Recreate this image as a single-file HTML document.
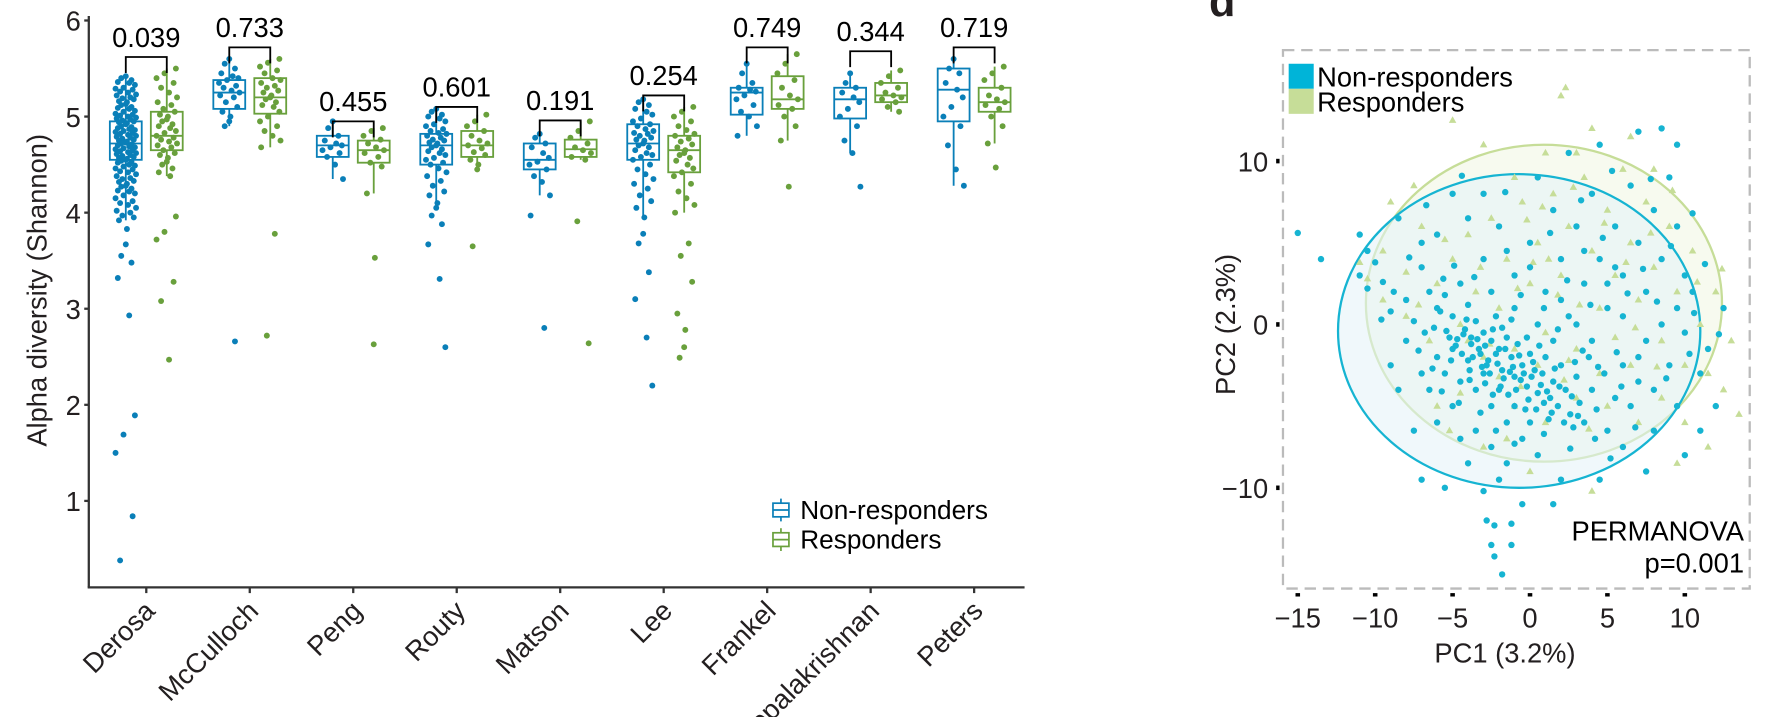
<!DOCTYPE html>
<html><head><meta charset="utf-8">
<style>
body{margin:0;background:#fff;}
svg{display:block;font-family:"Liberation Sans",Arial,sans-serif;}
</style></head>
<body>
<svg id="fig" width="1785" height="717" viewBox="0 0 1785 717">
<g transform="scale(1.1384)">
<g id="left"></g>
<g id="right"></g>
</g>
</svg>
<script>
// ---------- Left chart data ----------
const studies=["Derosa","McCulloch","Peng","Routy","Matson","Lee","Frankel","Gopalakrishnan","Peters"];
const pvalues=["0.039","0.733","0.455","0.601","0.191","0.254","0.749","0.344","0.719"];
const bracketY=[5.62,5.72,4.95,5.1,4.96,5.22,5.72,5.68,5.72];
// box stats: [lowWhisker,q1,median,q3,highWhisker]
const nrBox=[[3.92,4.55,4.72,4.95,5.42],[4.9,5.08,5.25,5.38,5.6],[4.35,4.58,4.7,4.8,4.95],[4.05,4.5,4.7,4.82,5.08],[4.18,4.45,4.55,4.72,4.82],[3.95,4.55,4.72,4.92,5.18],[4.8,5.02,5.25,5.3,5.55],[4.62,4.98,5.18,5.3,5.45],[4.28,4.95,5.28,5.5,5.6]];
const rBox=[[4.38,4.65,4.8,5.05,5.5],[4.68,5.03,5.2,5.4,5.6],[4.2,4.52,4.65,4.75,4.88],[4.45,4.58,4.7,4.85,5.02],[4.55,4.58,4.66,4.76,4.95],[4.0,4.42,4.65,4.8,5.1],[4.75,5.08,5.18,5.42,5.65],[5.05,5.15,5.22,5.35,5.48],[4.72,5.05,5.15,5.3,5.52]];
const nrPts=[
[5.42,5.4,5.38,5.36,5.35,5.33,5.3,5.29,5.28,5.26,5.25,5.23,5.22,5.2,5.19,5.18,5.16,5.15,5.13,5.12,5.1,5.09,5.08,5.06,5.05,5.03,5.02,5.01,5.0,4.99,4.98,4.97,4.96,4.95,4.94,4.93,4.92,4.9,4.89,4.88,4.87,4.86,4.85,4.84,4.83,4.82,4.81,4.8,4.79,4.78,4.77,4.76,4.75,4.74,4.73,4.72,4.71,4.7,4.69,4.68,4.67,4.66,4.65,4.64,4.63,4.62,4.61,4.6,4.59,4.58,4.57,4.56,4.55,4.54,4.53,4.52,4.5,4.49,4.48,4.46,4.45,4.43,4.42,4.4,4.38,4.36,4.35,4.33,4.32,4.3,4.28,4.27,4.25,4.23,4.22,4.2,4.18,4.15,4.12,4.1,4.08,4.05,4.02,4.0,3.97,3.95,3.92,3.83,3.67,3.55,3.48,3.32,2.93,1.89,1.69,1.5,0.84,0.38],
[5.6,5.55,5.5,5.45,5.42,5.4,5.38,5.35,5.32,5.3,5.27,5.25,5.22,5.2,5.15,5.1,5.05,5.0,4.95,4.9,2.66],
[4.95,4.88,4.8,4.75,4.72,4.7,4.68,4.65,4.62,4.58,4.5,4.35],
[5.08,5.05,5.02,5.0,4.98,4.95,4.92,4.9,4.87,4.85,4.83,4.82,4.8,4.78,4.76,4.75,4.73,4.72,4.7,4.68,4.66,4.64,4.62,4.6,4.57,4.55,4.52,4.5,4.46,4.42,4.38,4.33,4.28,4.22,4.18,4.1,4.05,3.97,3.88,3.67,3.31,2.6],
[4.82,4.78,4.72,4.68,4.62,4.57,4.53,4.5,4.45,4.38,4.32,4.18,3.97,2.8],
[5.18,5.15,5.12,5.08,5.05,5.02,4.98,4.95,4.92,4.9,4.87,4.85,4.83,4.82,4.8,4.78,4.76,4.75,4.72,4.7,4.68,4.65,4.62,4.6,4.58,4.55,4.5,4.45,4.4,4.35,4.3,4.25,4.18,4.12,4.05,3.95,3.78,3.68,3.38,3.1,2.7,2.2],
[5.55,5.45,5.35,5.3,5.28,5.26,5.22,5.18,5.12,5.05,5.0,4.9,4.8],
[5.45,5.35,5.3,5.25,5.2,5.15,5.08,5.0,4.9,4.75,4.62,4.27],
[5.6,5.5,5.45,5.35,5.28,5.2,5.1,5.0,4.9,4.7,4.45,4.28]];
const rPts=[
[5.5,5.45,5.4,5.35,5.3,5.25,5.2,5.15,5.12,5.08,5.05,5.02,5.0,4.97,4.95,4.92,4.9,4.88,4.85,4.83,4.8,4.78,4.76,4.74,4.72,4.7,4.68,4.65,4.62,4.6,4.57,4.53,4.5,4.46,4.42,4.38,3.96,3.8,3.72,3.28,3.08,2.47],
[5.6,5.56,5.52,5.48,5.45,5.4,5.38,5.35,5.32,5.3,5.27,5.25,5.22,5.2,5.18,5.15,5.12,5.1,5.05,5.0,4.95,4.9,4.85,4.8,4.75,4.68,3.78,2.72],
[4.88,4.85,4.8,4.76,4.72,4.68,4.65,4.62,4.58,4.52,4.48,4.2,3.53,2.63],
[5.02,4.95,4.9,4.85,4.8,4.75,4.72,4.7,4.67,4.63,4.6,4.55,4.5,4.45,3.65],
[4.95,4.85,4.78,4.72,4.68,4.65,4.62,4.58,4.55,3.91,2.64],
[5.1,5.05,5.0,4.95,4.9,4.86,4.82,4.8,4.77,4.74,4.71,4.68,4.65,4.62,4.6,4.57,4.54,4.5,4.46,4.42,4.38,4.3,4.22,4.15,4.08,4.0,3.68,3.55,3.28,2.95,2.78,2.6,2.49],
[5.65,5.55,5.45,5.38,5.3,5.22,5.18,5.12,5.08,5.0,4.9,4.75,4.27],
[5.48,5.42,5.35,5.3,5.25,5.22,5.2,5.18,5.15,5.1,5.05],
[5.52,5.45,5.38,5.3,5.22,5.18,5.15,5.12,5.08,5.0,4.9,4.72,4.47]];
const yTicks=[1,2,3,4,5,6];

// ---------- Right chart data ----------
const pcXTicks=[-15,-10,-5,0,5,10];
const pcYTicks=[-10,0,10];
// ellipse: [cx, cy, rx, ry] in PC units
const nrEllipse=[-0.7,-0.4,11.7,9.6];
const rEllipse=[0.9,1.3,11.5,9.7];
const nrScatter=[[-15,5.6],[-11,5.5],[-13.5,4],[-10.5,4.5],[-10,3.8],[-11,3],[-10.5,2.2],[-9.5,2.6],[-8.5,6.5],[-8,1.5],[-9,0.8],[-7,5],[-7,3.5],[-6.5,2],[-6,1],[-7.5,0.2],[-6.8,-0.5],[-5.5,1.8],[-5,0.5],[-5.2,-0.8],[-4.5,2.5],[-4,1.2],[-4.2,-0.3],[-3.8,-1.2],[-3.5,0.2],[-3,-0.5],[-3.2,-1.8],[-2.8,-2.5],[-2.5,-1],[-2.2,0.5],[-2,-1.5],[-1.8,-2.8],[-1.5,-0.8],[-1.2,-2],[-1,-3.2],[-0.8,-1.2],[-0.5,-2.5],[-0.2,-3.8],[0,-1.8],[0.3,-2.8],[0.5,-4.2],[0.8,-3],[1,-2],[1.3,-4.5],[1.5,-3.5],[1.8,-5],[2,-2.5],[2.3,-4],[2.6,-5.5],[3,-3.2],[3.2,-4.8],[3.5,-6],[3.8,-2],[4,-4],[4.3,-5.2],[4.8,-3],[5,-6.5],[5.5,-4.5],[6,-2.5],[6.5,-5],[7,-3.5],[7.5,-1],[8,-4],[8.5,0],[9,-2.5],[9.5,1],[10,-0.5],[10.5,2],[11,-3],[11.5,-1.5],[12,-5],[12.5,1],[-6,-2],[-5.5,-3],[-5,-1.5],[-4.5,-3.5],[-4,-2.2],[-3.5,-4],[-3,-3],[-2.5,-5],[-2,-4],[-1.5,-6],[-1,-5],[-0.5,-7],[0,-6],[0.5,-8],[-1.5,-8.5],[-2.5,-7.5],[-3.5,-6.5],[-5,-5],[-6.5,-4],[-2,-9.5],[-3,-10.2],[-0.5,-11],[-7,-9.5],[-5.5,-10],[-2.8,-12],[-2.3,-12.3],[-1.2,-12.2],[-2.5,-13.5],[-1.2,-13.5],[-2.3,-14.2],[-1.8,-15.3],[1.5,-11],[-4,-8.5],[-3,4],[-2,6],[-1,3],[0,5],[1,2],[1.5,7],[2,4],[2.5,0.5],[3,6],[3.5,2.5],[4,8],[4.5,4],[5,1],[5.5,6],[6,3],[6.5,8.5],[7,5],[7.5,2],[8,7],[8.5,4],[9,9],[9.5,6],[10,3],[-4,6.5],[-5,8],[-6,5.5],[-3,8],[0.5,9],[2.5,10.5],[4.5,11],[8.5,12],[9.5,11],[7,11.8],[-1,1],[0.5,0],[1.5,-1],[3,0],[4,-1],[5,2.5],[6,0.5],[7,-2],[-2.5,2],[-1.5,4.5],[0,3.5],[2,1.5],[3.5,4.5],[5.5,3.5],[-8,-1],[-9,-2.5],[-7,-3],[-8.5,-4],[-6,-6],[-4.5,-7],[-7.5,-6.5],[-3.8,-0.8],[-3.3,-1.5],[-2.7,-2.2],[-2.2,-1.8],[-1.7,-3.3],[-1.1,-2.6],[-0.6,-3.4],[0.2,-2.3],[0.9,-4.8],[1.6,-2.7],[-4.8,-1.3],[-4.3,-0.6],[-3.9,-2.8],[-2.9,-3.6],[-0.3,-5.2],[1.2,-5.8],[2.8,-6.3],[4.2,-7],[6,-7.5],[8,-6.5],[9.5,-5],[11,-6.5],[10,-8],[7.5,-9],[4.5,-9.5],[2,-9.5],
[-6.2,-0.2],[-5.8,0.8],[-5.4,-0.4],[-5.1,-2.2],[-4.7,-0.9],[-4.4,-1.8],[-4.1,0.3],[-3.7,-2.0],[-3.4,-0.9],[-3.1,-2.6],[-2.9,-1.3],[-2.6,-3.0],[-2.4,-0.3],[-2.1,-2.4],[-1.9,-3.8],[-1.6,-1.5],[-1.4,-4.3],[-1.3,-2.9],[-0.9,-4.0],[-0.7,-1.9],[-0.4,-3.0],[-0.1,-4.6],[0.1,-3.2],[0.4,-5.2],[0.7,-3.7],[1.1,-4.1],[1.4,-5.4],[1.9,-3.8],[2.2,-6.0],[2.7,-4.4],[3.1,-5.6],[-5.6,2.8],[-4.9,3.6],[-3.6,2.9],[-1.2,0.3],[-0.6,1.8],[0.9,1.0],[2.4,2.7],[3.9,1.2],[4.7,5.3],[6.3,1.9],[7.3,3.4],[8.2,1.4],[9.1,4.8],[10.6,0.7],[11.3,3.7],[-7.8,4.1],[-8.8,2.0],[-9.6,0.3],[-6.3,-2.7],[-7.2,-1.6],[-5.7,-4.1],[-3.2,-5.4],[-2.2,-6.5],[-1.0,-7.3],[0.9,-6.7],[2.6,-7.6],[5.2,-8.2],[6.8,-6.3],[8.8,-3.3],[10.3,-1.8],[12.2,-0.6],[-6.7,7.3],[-4.4,9.1],[-1.6,8.1],[1.3,5.6],[3.3,7.6],[5.3,9.4],[7.8,8.9],[10.5,6.8],[-1.8,-0.2],[-0.2,-0.8],[1.8,-0.3],[3.4,-1.6],[5.6,-1.7],[-4.6,-4.8],[-3.9,-3.4],[-2.4,-4.3],[0.6,-1.3],[2.9,-2.3],[4.4,-2.6],[5.9,-3.8]];
const rScatter=[[-11,3.8],[-10.5,2.8],[-9.5,4.5],[-9.5,1.5],[-8,3.2],[-7,6],[-6.5,-1],[-6,2.5],[-5,4],[-4.5,0],[-4,5.5],[-3.5,2],[-3,-2],[-2.5,6.5],[-2,1],[-1.5,4],[-1,-1.5],[-0.5,7.5],[0,2.5],[0.5,5],[1,-0.5],[1.5,8],[2,3],[2.5,6],[3,-1.5],[3.5,9],[4,4.5],[4.5,1],[5,7],[5.5,3],[6,9.5],[6.5,5],[7,1.5],[7.5,7.5],[8,3.5],[8.5,-1],[9,6],[9.5,2],[10,-2.5],[10.5,4.5],[11,0],[11.5,-3],[12,2],[12.5,-4],[13,-1],[13.5,-5.5],[2,14],[2.3,14.5],[-5,12.5],[-3,11],[1,10.5],[4,12],[-7.5,8.5],[-9,7.5],[-1,-5],[1,-6],[3,-4.5],[5,-5],[7,-6],[-3,-7.5],[0,-9],[4,-10.2],[-4.5,-4.2],[-2,-3.2],[0.5,-2.5],[2.5,-2.2],[4.5,-3],[6.5,-2.5],[8.5,-4.5],[10,-6],[-6,-5],[-8,0.5],[-1,9],[3,10.5],[6.5,11.5],[8,9.5],[0.2,3.8],[1.8,1.8],[-0.8,2.2],[3.2,1.2],[5.5,-0.8],[-1.5,-7],[-5.2,-6.5],[9.5,-8.5],[11.5,-7.5],
[-7.2,1.2],[-5.5,5.2],[-3.2,3.5],[-0.2,6.4],[1.2,4.0],[2.8,8.4],[4.8,6.2],[6.2,3.8],[7.8,5.6],[9.2,8.2],[10.8,2.6],[12.4,3.4],[6.8,-0.2],[8.2,-2.6],[-2.6,-1.2],[-0.6,-3.8],[2.2,-3.4],[3.8,-6.4],[-4,-1],[0.8,7.2]];

const NS="http://www.w3.org/2000/svg";
function mk(parent,tag,attrs,name,text){
  const el=document.createElementNS(NS,tag);
  for(const k in attrs) el.setAttribute(k,attrs[k]);
  
  
  if(text!==undefined) el.textContent=text;
  parent.appendChild(el);return el;
}
// ---------- Left chart ----------
const L=document.getElementById('left');
const yS=v=>18+(6-v)*84.4;
const xC=i=>128.5+i*90.9;
const NRC="#0a7fb8", RC="#69a03c";
mk(L,'line',{x1:78,y1:14,x2:78,y2:516,stroke:'#333','stroke-width':2},'y-axis-line');
mk(L,'line',{x1:77,y1:516,x2:900,y2:516,stroke:'#333','stroke-width':2},'x-axis-line');
yTicks.forEach(t=>{
  mk(L,'line',{x1:74,y1:yS(t),x2:78,y2:yS(t),stroke:'#333','stroke-width':2},'y-tick');
  mk(L,'text',{x:71,y:yS(t)+9,'text-anchor':'end','font-size':24,fill:'#231f20'},'y-tick-label',t);
});
mk(L,'text',{x:0,y:0,transform:'translate(41,255) rotate(-90)','text-anchor':'middle','font-size':24,fill:'#231f20'},'y-axis-title','Alpha diversity (Shannon)');
function drawBox(g,cx,b,col,name){
  mk(g,'line',{x1:cx,y1:yS(b[0]),x2:cx,y2:yS(b[1]),stroke:col,'stroke-width':1.6},name+'-whisker-low');
  mk(g,'line',{x1:cx,y1:yS(b[3]),x2:cx,y2:yS(b[4]),stroke:col,'stroke-width':1.6},name+'-whisker-high');
  mk(g,'rect',{x:cx-14,y:yS(b[3]),width:28,height:yS(b[1])-yS(b[3]),fill:'none',stroke:col,'stroke-width':1.6},name+'-box');
  mk(g,'line',{x1:cx-14,y1:yS(b[2]),x2:cx+14,y2:yS(b[2]),stroke:col,'stroke-width':1.6},name+'-median');
}
const jit=[0,-4,5,-7,3,8,-2,-9,6,-5,2,9,-8,4,-3,7,-6,1];
studies.forEach((s,i)=>{
  const g=mk(L,'g',{},'group-'+s.toLowerCase());
  const c=xC(i), nx=c-18, rx=c+18;
  mk(L,'line',{x1:c,y1:516,x2:c,y2:521,stroke:'#333','stroke-width':2},'x-tick');
  mk(L,'text',{x:0,y:0,transform:`translate(${c+9},${538}) rotate(-45)`,'text-anchor':'end','font-size':24,fill:'#231f20'},'x-tick-label',s);
  drawBox(g,nx,nrBox[i],NRC,'nr');
  drawBox(g,rx,rBox[i],RC,'r');
  nrPts[i].forEach((v,k)=>mk(g,'circle',{cx:nx+jit[k%jit.length],cy:yS(v),r:2.6,fill:NRC},'nr-point'));
  rPts[i].forEach((v,k)=>mk(g,'circle',{cx:rx+jit[(k+5)%jit.length],cy:yS(v),r:2.6,fill:RC},'r-point'));
  const by=yS(bracketY[i]);
  mk(g,'path',{d:`M${nx},${by+14}V${by}H${rx}V${by+14}`,fill:'none',stroke:'#000','stroke-width':1.6},'significance-bracket');
  mk(g,'text',{x:c,y:by-9,'text-anchor':'middle','font-size':24,fill:'#000'},'p-value-label',pvalues[i]);
});
// legend
function legIcon(y,col){
  mk(L,'line',{x1:686,y1:y-10,x2:686,y2:y+10,stroke:col,'stroke-width':1.5},'legend-icon-whisker');
  mk(L,'rect',{x:679,y:y-6,width:14,height:12,fill:'#fff',stroke:col,'stroke-width':1.5},'legend-icon-box');
  mk(L,'line',{x1:679,y1:y,x2:693,y2:y,stroke:col,'stroke-width':1.5},'legend-icon-median');
}
legIcon(448,NRC);legIcon(474,RC);
mk(L,'text',{x:703,y:456,'font-size':23,fill:'#000'},'legend-non-responders','Non-responders');
mk(L,'text',{x:703,y:482,'font-size':23,fill:'#000'},'legend-responders','Responders');

// ---------- Right chart ----------
const R=document.getElementById('right');
const px=v=>1344+v*13.6;
const py=v=>285-v*14.35;
const C1="#16b4d2", C2="#c6dd98";
mk(R,'text',{x:1062,y:14,'font-size':38,'font-weight':'bold',fill:'#231f20'},'panel-letter','d');
mk(R,'rect',{x:1127,y:44,width:410,height:473,fill:'none',stroke:'#bbb','stroke-width':2,'stroke-dasharray':'10,6'},'plot-frame');
mk(R,'ellipse',{cx:px(rEllipse[0]),cy:py(rEllipse[1]),rx:rEllipse[2]*13.6,ry:rEllipse[3]*14.35,fill:'#f3f8e8','fill-opacity':0.7,stroke:C2,'stroke-width':2},'responders-ellipse');
mk(R,'ellipse',{cx:px(nrEllipse[0]),cy:py(nrEllipse[1]),rx:nrEllipse[2]*13.6,ry:nrEllipse[3]*14.35,fill:'#e3f3f8','fill-opacity':0.55,stroke:C1,'stroke-width':2},'non-responders-ellipse');
rScatter.forEach(p=>{const x=px(p[0]),y=py(p[1]);
  mk(R,'path',{d:`M${x},${y-3.5}L${x+3.3},${y+2.3}L${x-3.3},${y+2.3}Z`,fill:C2},'responder-point');});
nrScatter.forEach(p=>mk(R,'circle',{cx:px(p[0]),cy:py(p[1]),r:2.8,fill:C1},'non-responder-point'));
pcYTicks.forEach(t=>{
  mk(R,'rect',{x:1121,y:py(t)-2,width:3,height:4,fill:'#000'},'y-tick');
  mk(R,'text',{x:1114,y:py(t)+9,'text-anchor':'end','font-size':24,fill:'#231f20'},'y-tick-label',t<0?'\u2212'+(-t):t);
});
pcXTicks.forEach(t=>{
  mk(R,'rect',{x:px(t)-2,y:521,width:4,height:3,fill:'#000'},'x-tick');
  mk(R,'text',{x:px(t),y:551,'text-anchor':'middle','font-size':24,fill:'#231f20'},'x-tick-label',t<0?'\u2212'+(-t):t);
});
mk(R,'text',{x:1322,y:582,'text-anchor':'middle','font-size':24,fill:'#231f20'},'x-axis-title','PC1 (3.2%)');
mk(R,'text',{x:0,y:0,transform:'translate(1085,285) rotate(-90)','text-anchor':'middle','font-size':24,fill:'#231f20'},'y-axis-title','PC2 (2.3%)');
mk(R,'rect',{x:1132,y:56,width:22,height:22,fill:'#00b4d8'},'legend-swatch-non-responders');
mk(R,'rect',{x:1132,y:78,width:22,height:22,fill:'#c6dd98'},'legend-swatch-responders');
mk(R,'text',{x:1157,y:76,'font-size':24,fill:'#000'},'legend-non-responders','Non-responders');
mk(R,'text',{x:1157,y:98,'font-size':24,fill:'#000'},'legend-responders','Responders');
mk(R,'text',{x:1532,y:475,'text-anchor':'end','font-size':24,fill:'#000'},'permanova-label','PERMANOVA');
mk(R,'text',{x:1532,y:503,'text-anchor':'end','font-size':24,fill:'#000'},'permanova-p-value','p=0.001');
</script>
</body></html>
